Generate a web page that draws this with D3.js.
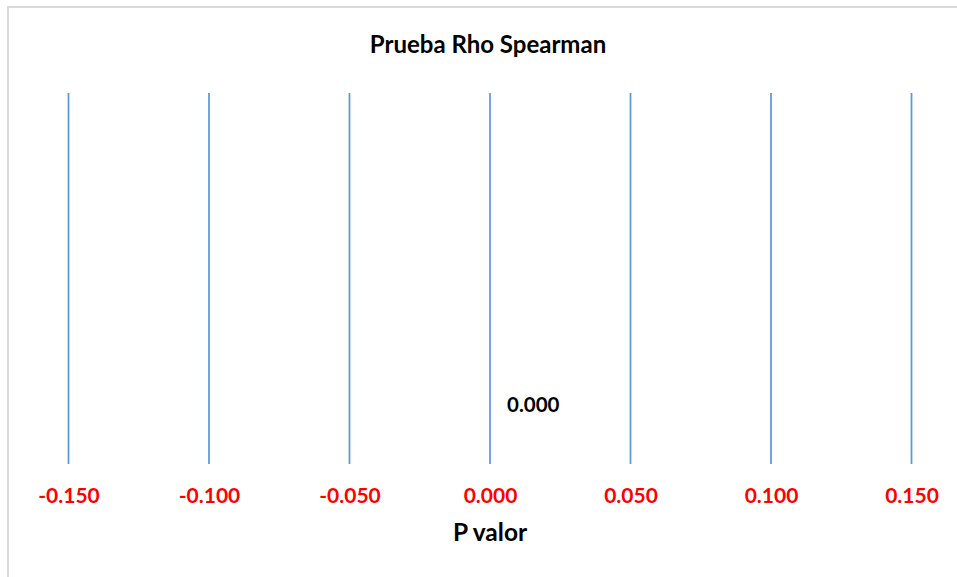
<!DOCTYPE html>
<html>
  <head>
    <meta charset="utf-8" />
    <title>Prueba Rho Spearman</title>
    <style>
      body {
        margin: 0;
        background: #fff;
      }
      text {
        font-family: Lato, 'Open Sans', sans-serif;
        font-weight: bold;
      }
    </style>
    <script src="https://d3js.org/d3.v7.min.js"></script>
  </head>
  <body>
    <svg id="chart" width="957" height="577"></svg>

    <script>
      // x axis ticks (P valor) and the single point
      var tickValues = [-0.15, -0.1, -0.05, 0, 0.05, 0.1, 0.15];
      var pValues = [0.0];
      var yValues = [0.14];
      var pointLabels = ['0.000'];

      var svg = d3.select('#chart');

      // chart area border (only top and left show)
      svg
        .append('rect')
        .attr('x', 8)
        .attr('y', 7)
        .attr('width', 1000)
        .attr('height', 1000)
        .attr('fill', 'none')
        .attr('stroke', '#d9d9d9')
        .attr('stroke-width', 2);

      var x = d3.scaleLinear().domain([-0.15, 0.15]).range([68.5, 911.5]);
      var y = d3.scaleLinear().domain([0, 1]).range([464, 93]);

      // vertical gridlines
      svg
        .append('g')
        .selectAll('line')
        .data(tickValues)
        .enter()
        .append('line')
        .attr('x1', (d) => x(d))
        .attr('x2', (d) => x(d))
        .attr('y1', y(1))
        .attr('y2', y(0))
        .attr('stroke', '#5b9bd5')
        .attr('stroke-width', 1.75);

      var fmt = d3.format('.3f');
      var xAxis = svg
        .append('g')
        .attr('transform', `translate(0,${y(0)})`)
        .call(
          d3
            .axisBottom(x)
            .tickValues(tickValues)
            .tickSize(0)
            .tickPadding(39)
            .tickFormat((d) => fmt(d).replace('\u2212', '-'))
        );
      xAxis.select('.domain').remove();
      xAxis
        .selectAll('text')
        .attr('fill', '#ff0000')
        .style('font-size', '21px')
        .style('font-family', 'Lato, sans-serif')
        .style('font-weight', 'bold')
        .attr('dy', '0');

      // data labels
      svg
        .append('g')
        .selectAll('text')
        .data(pValues)
        .enter()
        .append('text')
        .attr('x', (d) => x(d) + 17)
        .attr('y', (d, i) => y(yValues[i]))
        .attr('font-size', '20.5px')
        .attr('fill', '#000')
        .text((d, i) => pointLabels[i]);

      svg
        .append('text')
        .attr('x', 488)
        .attr('y', 53)
        .attr('text-anchor', 'middle')
        .attr('font-size', '24px')
        .text('Prueba Rho Spearman');

      svg
        .append('text')
        .attr('x', 490)
        .attr('y', 541)
        .attr('text-anchor', 'middle')
        .attr('font-size', '24.5px')
        .text('P valor');
    </script>
  </body>
</html>
